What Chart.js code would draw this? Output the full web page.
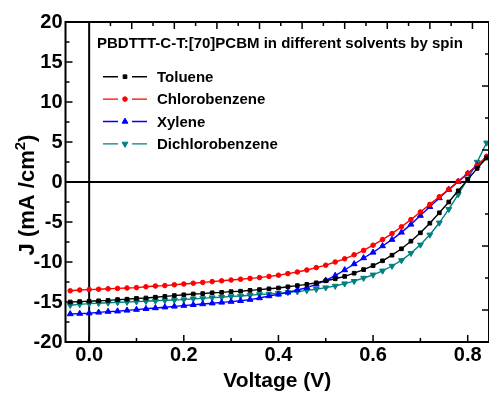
<!DOCTYPE html>
<html>
<head>
<meta charset="utf-8">
<script src="https://cdn.jsdelivr.net/npm/chart.js@4/dist/chart.umd.min.js"></script>
<style>
  html, body { margin: 0; padding: 0; overflow: hidden; background: #fff; }
  #wrap { position: relative; width: 494px; height: 394px; }
</style>
</head>
<body>
<div id="wrap"><canvas id="jv"></canvas></div>
<script>
// J-V sweep, one reading every 20 mV
const voltage = [-0.04, -0.02, 0.00, 0.02, 0.04, 0.06, 0.08, 0.10, 0.12, 0.14,
                 0.16, 0.18, 0.20, 0.22, 0.24, 0.26, 0.28, 0.30, 0.32, 0.34,
                 0.36, 0.38, 0.40, 0.42, 0.44, 0.46, 0.48, 0.50, 0.52, 0.54,
                 0.56, 0.58, 0.60, 0.62, 0.64, 0.66, 0.68, 0.70, 0.72, 0.74,
                 0.76, 0.78, 0.80, 0.82, 0.84];

const toluene = [-15.0, -14.95, -14.9, -14.85, -14.8, -14.7, -14.65, -14.55, -14.5, -14.4,
                 -14.3, -14.2, -14.1, -14.0, -13.95, -13.85, -13.8, -13.7, -13.65, -13.55,
                 -13.45, -13.35, -13.25, -13.1, -12.95, -12.8, -12.6, -12.35, -12.1, -11.8,
                 -11.4, -10.95, -10.45, -9.85, -9.15, -8.35, -7.4, -6.35, -5.15, -3.85,
                 -2.5, -1.1, 0.3, 1.7, 3.0];

const chlorobenzene = [-13.6, -13.5, -13.45, -13.4, -13.35, -13.3, -13.25, -13.2, -13.1, -13.0,
                       -12.95, -12.85, -12.75, -12.65, -12.55, -12.45, -12.35, -12.25, -12.15, -12.05,
                       -11.95, -11.8, -11.65, -11.45, -11.25, -11.0, -10.7, -10.4, -10.0, -9.6,
                       -9.1, -8.55, -7.9, -7.2, -6.45, -5.6, -4.7, -3.75, -2.8, -1.85,
                       -0.9, 0.1, 1.1, 2.1, 3.2];

const xylene = [-16.5, -16.45, -16.4, -16.3, -16.2, -16.15, -16.05, -15.95, -15.85, -15.75,
                -15.65, -15.55, -15.45, -15.35, -15.25, -15.15, -15.05, -14.95, -14.85, -14.7,
                -14.5, -14.25, -14.05, -13.8, -13.5, -13.2, -12.8, -12.3, -11.7, -11.0,
                -10.25, -9.5, -8.8, -8.0, -7.2, -6.3, -5.3, -4.2, -3.1, -2.0,
                -0.95, 0.05, 1.05, 2.05, 3.1];

const dichlorobenzene = [-15.4, -15.3, -15.2, -15.15, -15.1, -15.05, -15.0, -14.95, -14.9, -14.85,
                         -14.8, -14.75, -14.7, -14.6, -14.55, -14.45, -14.4, -14.3, -14.25, -14.15,
                         -14.05, -14.0, -13.9, -13.8, -13.7, -13.55, -13.4, -13.2, -13.0, -12.7,
                         -12.4, -12.0, -11.6, -11.1, -10.5, -9.8, -8.9, -7.85, -6.6, -5.1,
                         -3.4, -1.55, 0.4, 2.5, 4.9];

const seriesNames = ['Toluene', 'Chlorobenzene', 'Xylene', 'Dichlorobenzene'];
const plotTitle = 'PBDTTT-C-T:[70]PCBM in different solvents by spin';

// axis ticks
const xMajorTicks = [0.0, 0.2, 0.4, 0.6, 0.8];
const xMinorTicks = [0.1, 0.3, 0.5, 0.7];
const yMajorTicks = [-20, -15, -10, -5, 0, 5, 10, 15, 20];
const yMinorTicks = [-17.5, -12.5, -7.5, -2.5, 2.5, 7.5, 12.5, 17.5];
const topAxisTicks = [0.045, 0.09, 0.135, 0.18, 0.225, 0.27, 0.315, 0.36, 0.405, 0.45, 0.495, 0.54, 0.585, 0.63, 0.675, 0.72, 0.765, 0.81];
const rightAxisTicks = [16, 12, 8, 4, -4, -8, -12, -16];

const FONT = "'Liberation Sans', Arial, sans-serif";

const styles = [
  { color: '#000000', pointStyle: 'rect', radius: 2.6, rotation: 0 },
  { color: '#ff0000', pointStyle: 'circle', radius: 2.3, rotation: 0 },
  { color: '#0000ff', pointStyle: 'triangle', radius: 3.4, rotation: 0 },
  { color: '#008080', pointStyle: 'triangle', radius: 3.4, rotation: 180 }
];

const values = [toluene, chlorobenzene, xylene, dichlorobenzene];

const datasets = values.map((vals, i) => ({
  label: seriesNames[i],
  data: voltage.map((v, k) => ({ x: v, y: vals[k] })),
  borderColor: styles[i].color,
  backgroundColor: styles[i].color,
  borderWidth: 1.4,
  pointStyle: styles[i].pointStyle,
  pointRadius: styles[i].radius,
  pointRotation: styles[i].rotation,
  pointBackgroundColor: styles[i].color,
  pointBorderColor: styles[i].color,
  pointBorderWidth: 1,
  tension: 0,
  fill: false
}));

function drawMarker(ctx, style, x, y) {
  const r = style.radius;
  ctx.save();
  ctx.fillStyle = style.color;
  ctx.strokeStyle = style.color;
  ctx.lineWidth = 1;
  ctx.beginPath();
  if (style.pointStyle === 'rect') {
    const s = r * Math.SQRT1_2;
    ctx.rect(x - s, y - s, 2 * s, 2 * s);
  } else if (style.pointStyle === 'circle') {
    ctx.arc(x, y, r, 0, Math.PI * 2);
  } else {
    const dir = style.rotation === 180 ? 1 : -1;
    for (let k = 0; k < 3; k++) {
      const a = -Math.PI / 2 + k * 2 * Math.PI / 3;
      const px = x + Math.cos(a) * r;
      const py = y - dir * Math.sin(a) * r * -1;
      if (k === 0) ctx.moveTo(px, dir === -1 ? y - r : y + r);
      else ctx.lineTo(px, dir === -1 ? y + r * 0.5 : y - r * 0.5);
    }
    ctx.closePath();
  }
  ctx.fill();
  ctx.stroke();
  ctx.restore();
}

const decorations = {
  id: 'decorations',
  beforeDatasetsDraw(chart) {
    const { ctx, chartArea: a, scales: { x, y } } = chart;
    ctx.save();
    ctx.strokeStyle = '#000';
    ctx.lineWidth = 2;
    const y0 = y.getPixelForValue(0);
    const x0 = x.getPixelForValue(0);
    ctx.beginPath();
    ctx.moveTo(a.left, y0); ctx.lineTo(a.right, y0);
    ctx.moveTo(x0, a.top); ctx.lineTo(x0, a.bottom);
    ctx.stroke();
    ctx.restore();
  },
  afterDatasetsDraw(chart) {
    const { ctx, chartArea: a, scales: { x, y } } = chart;
    ctx.save();
    ctx.strokeStyle = '#000';
    ctx.lineWidth = 2;
    ctx.lineCap = 'butt';
    ctx.strokeRect(a.left, a.top, a.right - a.left, a.bottom - a.top);

    ctx.lineWidth = 1.5;
    ctx.beginPath();
    xMajorTicks.forEach(v => { const p = x.getPixelForValue(v); ctx.moveTo(p, a.bottom); ctx.lineTo(p, a.bottom - 7); });
    xMinorTicks.forEach(v => { const p = x.getPixelForValue(v); ctx.moveTo(p, a.bottom); ctx.lineTo(p, a.bottom - 4); });
    yMajorTicks.forEach(v => { const p = y.getPixelForValue(v); ctx.moveTo(a.left, p); ctx.lineTo(a.left + 7, p); });
    yMinorTicks.forEach(v => { const p = y.getPixelForValue(v); ctx.moveTo(a.left, p); ctx.lineTo(a.left + 4, p); });
    topAxisTicks.forEach((v, i) => { const p = x.getPixelForValue(v); ctx.moveTo(p, a.top); ctx.lineTo(p, a.top + (i % 2 ? 7 : 4)); });
    rightAxisTicks.forEach((v, i) => { const p = y.getPixelForValue(v); ctx.moveTo(a.right, p); ctx.lineTo(a.right - (i % 2 ? 7 : 4), p); });
    ctx.stroke();

    // heading inside the frame
    ctx.fillStyle = '#000';
    ctx.textBaseline = 'alphabetic';
    ctx.textAlign = 'left';
    ctx.font = 'bold 15px ' + FONT;
    ctx.fillText(plotTitle, 97, 48);

    // legend
    ctx.font = 'bold 15px ' + FONT;
    chart.data.datasets.forEach((ds, i) => {
      const base = 81.7 + i * 22.4;
      const cy = base - 5;
      ctx.strokeStyle = ds.borderColor;
      ctx.lineWidth = 1.4;
      ctx.beginPath();
      ctx.moveTo(103, cy); ctx.lineTo(118, cy);
      ctx.moveTo(132, cy); ctx.lineTo(147, cy);
      ctx.stroke();
      drawMarker(ctx, styles[i], 125, cy);
      ctx.fillStyle = '#000';
      ctx.fillText(ds.label, 157, base);
    });

    // vertical axis title with superscript
    ctx.save();
    ctx.translate(33.5, 195);
    ctx.rotate(-Math.PI / 2);
    const big = 'bold 22px ' + FONT, small = 'bold 15px ' + FONT;
    const p1 = 'J (mA /cm', p2 = '2', p3 = ')';
    ctx.font = big; const w1 = ctx.measureText(p1).width, w3 = ctx.measureText(p3).width;
    ctx.font = small; const w2 = ctx.measureText(p2).width;
    let sx = -(w1 + w2 + w3) / 2;
    ctx.fillStyle = '#000';
    ctx.font = big; ctx.fillText(p1, sx, 0); sx += w1;
    ctx.font = small; ctx.fillText(p2, sx, -9); sx += w2;
    ctx.font = big; ctx.fillText(p3, sx, 0);
    ctx.restore();

    ctx.restore();
  }
};

new Chart(document.getElementById('jv'), {
  type: 'line',
  data: { datasets },
  options: {
    responsive: true,
    maintainAspectRatio: false,
    animation: false,
    layout: { padding: { top: 22, right: 2, left: 0, bottom: 0 } },
    plugins: { legend: { display: false }, tooltip: { enabled: false } },
    scales: {
      x: {
        type: 'linear',
        min: -0.05,
        max: 0.845,
        grid: { display: false, drawTicks: false },
        border: { display: false },
        afterBuildTicks: s => { s.ticks = xMajorTicks.map(v => ({ value: v })); },
        afterFit: s => { s.height = 52; },
        ticks: {
          color: '#000',
          padding: 1,
          maxRotation: 0,
          autoSkip: false,
          font: { family: FONT, size: 20, weight: 'bold' },
          callback: v => Number(v).toFixed(1)
        },
        title: {
          display: true,
          text: 'Voltage (V)',
          color: '#000',
          font: { family: FONT, size: 21, weight: 'bold' },
          padding: { top: 5, bottom: 0 }
        }
      },
      y: {
        type: 'linear',
        min: -20,
        max: 20,
        grid: { display: false, drawTicks: false },
        border: { display: false },
        afterBuildTicks: s => { s.ticks = yMajorTicks.map(v => ({ value: v })); },
        afterFit: s => { s.width = 65.5; },
        ticks: {
          color: '#000',
          padding: 3,
          autoSkip: false,
          font: { family: FONT, size: 20, weight: 'bold' },
          callback: v => String(v)
        }
      }
    }
  },
  plugins: [decorations]
});
</script>
</body>
</html>
